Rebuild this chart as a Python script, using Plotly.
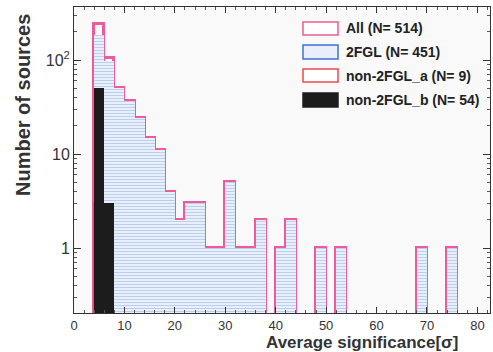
import plotly.graph_objects as go

# ---- data ----
bin_lo = list(range(4, 76, 2))          # lower bin edges, width 2
bin_width = 2
all_counts = [240, 106, 51, 37, 24, 15, 11, 4, 2, 3, 3, 1, 1, 5, 1, 1, 2, 0, 1, 2, 0, 0, 1, 0, 1,
              0, 0, 0, 0, 0, 0, 0, 1, 0, 0, 1]
fgl_counts = [186, 99, 51, 37, 24, 15, 11, 4, 2, 3, 3, 1, 1, 5, 1, 1, 2, 0, 1, 2, 0, 0, 1, 0, 1,
              0, 0, 0, 0, 0, 0, 0, 1, 0, 0, 1]
non_a_counts = [3, 4, 2] + [0] * 33
non_b_counts = [51, 3] + [0] * 34

names = ["All (N= 514)", "2FGL (N= 451)", "non-2FGL_a (N= 9)", "non-2FGL_b (N= 54)"]
x_ticks = [0, 10, 20, 30, 40, 50, 60, 70, 80]
y_ticks = [1, 10, 100]
y_ticktext = ["1", "10", "10<sup>2</sup>"]

PINK = "#ee5b98"
RED = "#ef4a4a"
BLUE_LINE = "#3f72d6"
BLUE_FILL = "#e8eff9"
BLUE_DOT = "#b6cdf0"
BLACK = "#1c1c1c"

centers = [lo + bin_width / 2 for lo in bin_lo]


def nz(vals):
    return [v if v > 0 else None for v in vals]


fig = go.Figure()
# All: pink outline (drawn first so the fills hide interior edges)
fig.add_trace(go.Bar(x=centers, y=nz(all_counts), width=bin_width, name=names[0],
                     marker=dict(color="rgba(0,0,0,0)", line=dict(color=PINK, width=3))))
# non-2FGL_a: red outline
fig.add_trace(go.Bar(x=centers, y=nz(non_a_counts), width=bin_width, name=names[2],
                     marker=dict(color="rgba(0,0,0,0)", line=dict(color=RED, width=2))))
# 2FGL: dotted light-blue fill
fig.add_trace(go.Bar(x=centers, y=nz(fgl_counts), width=bin_width, name=names[1],
                     marker=dict(color=BLUE_FILL, line=dict(width=0),
                                 pattern=dict(shape="-", fgcolor=BLUE_DOT, bgcolor=BLUE_FILL,
                                              size=3, solidity=0.3, fillmode="replace"))))
# non-2FGL_b: black fill
fig.add_trace(go.Bar(x=centers, y=nz(non_b_counts), width=bin_width, name=names[3],
                     marker=dict(color=BLACK, line=dict(width=0))))

# ---- geometry helpers for the custom legend ----
W, H = 493, 352
ML, MR, MT, MB = 74, 3, 7, 39


def px2x(px):
    return (px - ML) / (W - ML - MR)


def px2y(py):
    return (H - MB - py) / (H - MT - MB)


legend_items = [
    (names[0], "white", PINK, 22, 35),
    (names[1], BLUE_FILL, BLUE_LINE, 45, 59),
    (names[2], "white", RED, 69, 82),
    (names[3], BLACK, BLACK, 93, 107),
]
shapes = []
annotations = []
for label, fill, line, y0, y1 in legend_items:
    shapes.append(dict(type="rect", xref="paper", yref="paper",
                       x0=px2x(303), x1=px2x(338), y0=px2y(y1), y1=px2y(y0),
                       fillcolor=fill, line=dict(color=line, width=1.5), layer="above"))
    annotations.append(dict(text="<b>" + label + "</b>", xref="paper", yref="paper", x=px2x(344),
                            y=px2y((y0 + y1) / 2), xanchor="left", yanchor="middle",
                            showarrow=False,
                            font=dict(family="Liberation Sans", size=14, color="#222222")))

annotations.append(dict(text="<b>Number of sources</b>", xref="paper", yref="paper",
                        x=px2x(23), y=px2y(105), textangle=-90, showarrow=False,
                        xanchor="center", yanchor="middle",
                        font=dict(family="Liberation Sans", size=20, color="#333333")))
annotations.append(dict(text="<b>Average significance[σ]</b>", xref="paper", yref="paper",
                        x=px2x(264), y=px2y(342), showarrow=False,
                        xanchor="left", yanchor="middle",
                        font=dict(family="Liberation Sans", size=17, color="#333333")))

minor_y = [m * 10 ** e for e in (-1, 0, 1, 2) for m in range(2, 10)]

fig.update_layout(
    width=W, height=H,
    margin=dict(l=ML, r=MR, t=MT, b=MB),
    barmode="overlay",
    bargap=0,
    showlegend=False,
    paper_bgcolor="white",
    plot_bgcolor="#f9f9f9",
    shapes=shapes,
    annotations=annotations,
    font=dict(family="Liberation Sans", size=16, color="#333333"),
)
fig.update_xaxes(range=[0, 82.5], tickvals=x_ticks, ticks="inside", ticklen=6,
                 tickcolor="#333", showline=True, linecolor="#333", linewidth=1,
                 mirror="ticks", showgrid=False, zeroline=False,
                 tickfont=dict(size=13),
                 minor=dict(dtick=2, ticks="inside", ticklen=3, tickcolor="#555"))
fig.update_yaxes(type="log", range=[-0.69, 2.565], tickvals=y_ticks, ticktext=y_ticktext,
                 ticks="inside", ticklen=7, tickcolor="#333", showline=True,
                 linecolor="#333", linewidth=1, mirror="ticks", showgrid=False,
                 zeroline=False, tickfont=dict(size=16),
                 minor=dict(tickvals=minor_y, ticks="inside", ticklen=3, tickcolor="#555"))

fig.write_html("out.html")
